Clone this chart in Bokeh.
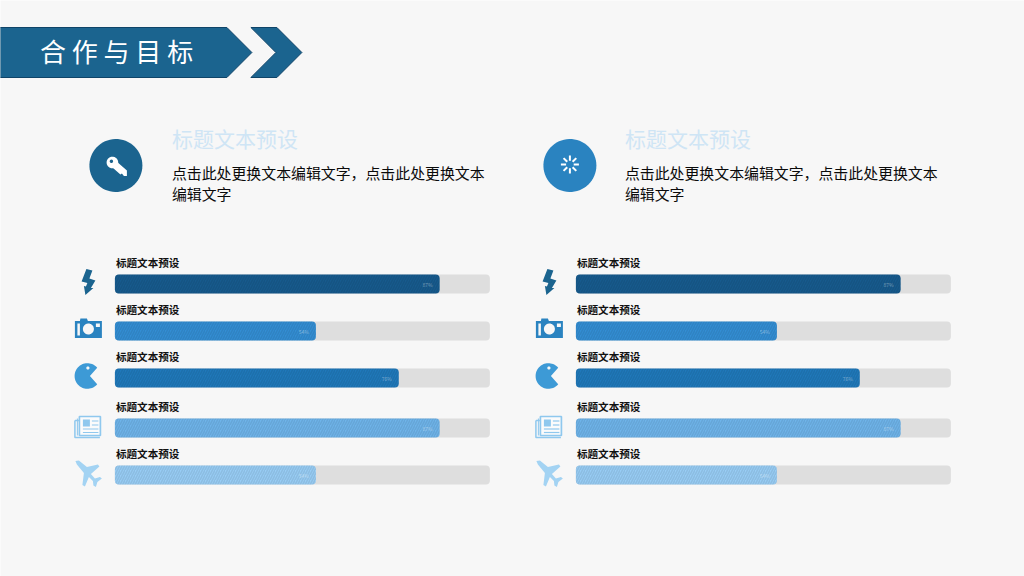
import numpy as np
from bokeh.plotting import figure
from bokeh.models import Range1d
from bokeh.core.properties import value
from bokeh.embed import file_html
from bokeh.resources import INLINE

heading = "合 作 与 目 标"
panel_title = "标题文本预设"
panel_lines = ["点击此处更换文本编辑文字，点击此处更换文本", "编辑文字"]
bar_labels = ["标题文本预设"] * 5
percents = [86.6, 53.6, 75.7, 86.6, 53.6]
percent_labels = ["87%", "54%", "76%", "87%", "54%"]
BAR_COLORS = ["#175b8e", "#338ed4", "#2079bb", "#6fb4ea", "#98cdf5"]
ICON_COLORS = ["#1b648f", "#2a83c0", "#3d9ad6", "#8fc8ee", "#a3d3f3"]
ROW_Y = [283.5, 330.5, 377.5, 427.5, 474.5]
LABEL_Y = [261.5, 308.5, 355.5, 405.5, 452.5]
CJK = value("Noto Sans CJK SC")
BG = "#f7f7f7"

p = figure(width=1024, height=576, x_range=Range1d(0.6, 1024.6), y_range=Range1d(576, 0),
           toolbar_location=None, output_backend="svg", min_border=0,
           background_fill_color=BG, border_fill_color=BG, outline_line_color=None)
p.axis.visible = False
p.grid.visible = False
p.styles = {"position": "absolute", "left": "0px", "top": "0px"}


def poly(pts, color, dx=0, **kw):
    xs = [a + dx for a, _ in pts]
    ys = [b for _, b in pts]
    p.patch(xs, ys, fill_color=color, line_color=kw.pop("line_color", None), **kw)


def circle(cx, cy, r, color):
    t = np.linspace(0, 2 * np.pi, 64)
    p.patch(cx + r * np.cos(t), cy + r * np.sin(t), fill_color=color, line_color=None)


def seg(x0, y0, x1, y1, color, w):
    p.line([x0, x1], [y0, y1], line_color=color, line_width=w)


# banner
poly([(0, 27), (227, 27), (252, 52), (227, 77), (0, 77)], "#1b648f", line_color="#0f4468", line_width=1)
poly([(251, 27), (277, 27), (302, 52), (277, 77), (251, 77), (276, 52)], "#1b648f", line_color="#0f4468", line_width=1)
p.text([40], [50], text=[heading], text_font=CJK, text_font_size="26px", text_color="white",
       text_align="left", text_baseline="middle")


def lightning(dx, c):
    poly([(86.5, 268.5), (92.5, 270), (89.5, 278), (95.5, 280), (91, 287.5), (93.5, 287.5), (85.5, 294.5),
          (84, 285.5), (86, 286), (87.5, 282.5), (81.7, 281)], c, dx)


def camera(dx, c):
    poly([(75, 320.5), (80, 320.5), (80.5, 318), (87, 318), (88, 320.5), (102, 320.5), (102, 337.5), (75, 337.5)], c, dx)
    poly([(77.5, 323), (80, 323), (80, 335), (77.5, 335)], BG, dx)
    circle(88.5 + dx, 328.5, 5.5, BG)
    poly([(96, 323), (100, 323), (100, 326.5), (96, 326.5)], BG, dx)


def pacman(dx, c):
    t = np.radians(np.linspace(40, 320, 50))
    pts = [(90, 375.5)] + [(87.5 + 12.8 * np.cos(a), 375.5 + 12.8 * np.sin(a)) for a in t]
    poly(pts, c, dx)
    circle(88 + dx, 367.5, 1.6, BG)


def news(dx, c):
    xs = [75 + dx, 75 + dx, 100 + dx]
    p.line(xs, [420, 437, 437], line_color=c, line_width=1.5)
    p.line([79 + dx, 75 + dx], [420, 420], line_color=c, line_width=1.5)
    p.line([77.5 + dx, 77.5 + dx], [418, 435], line_color=c, line_width=1)
    p.quad(left=[79.5 + dx], right=[100.5 + dx], top=[416], bottom=[435], fill_color="white", fill_alpha=0.5,
           line_color=c, line_width=1.7)
    p.quad(left=[83 + dx], right=[90 + dx], top=[419], bottom=[426], fill_color=c, line_color=None)
    for y in [420.5, 424.5]:
        seg(92 + dx, y, 98.5 + dx, y, c, 1.2)
    for y in [428.5, 432]:
        seg(83 + dx, y, 98.5 + dx, y, c, 1.2)


def plane(dx, c):
    poly([(75.5, 460.5), (79, 460), (87, 466.5), (98, 464), (99.5, 466), (91, 473.5), (95, 478), (100, 476.5),
          (102, 478), (97.5, 481.5), (96, 486.5), (93.5, 485), (93, 480.5), (89, 476.5), (85, 486), (82.5, 484.5),
          (84, 472.5), (77, 464)], c, dx)


ICONS = [lightning, camera, pacman, news, plane]

# header icons
circle(116, 165, 26.5, "#1b648f")
circle(570, 165, 26.5, "#2a83c0")
circle(112.5, 162, 5.8, "white")
circle(111.5, 160.8, 1.7, "#1b648f")
poly([(115, 159.5), (127, 170), (127, 175.5), (124, 175.5), (122, 173), (120.5, 174), (112, 166.5)], "white")
for a in np.arange(8) * np.pi / 4:
    seg(570 + 3.8 * np.cos(a), 164 + 3.8 * np.sin(a), 570 + 9 * np.cos(a), 164 + 9 * np.sin(a), "white", 2)

for dx, tx in ((0, 172), (461, 625)):
    p.text([tx], [137], text=[panel_title], text_font=CJK, text_font_size="21px", text_color="#cfe5f5",
           text_align="left", text_baseline="middle")
    p.text([tx, tx], [172, 192.5], text=panel_lines, text_font=CJK, text_font_size="14.9px", text_color="#0a0a0a",
           text_align="left", text_baseline="middle")

    left = 115 + dx
    full = 375
    rights = [left + full * v / 100 for v in percents]
    p.hbar(y=ROW_Y, left=left, right=left + full, height=19, fill_color="#dedede", line_color=None, border_radius=4)
    p.hbar(y=ROW_Y, left=left, right=rights, height=19, fill_color=BAR_COLORS, line_color=None, border_radius=4)
    p.hbar(y=ROW_Y, left=left, right=rights, height=19, fill_alpha=0, line_color=None, border_radius=4,
           hatch_pattern="right_diagonal_line", hatch_color="black", hatch_alpha=0.08, hatch_scale=5, hatch_weight=1.5)
    p.text([left + 1] * 5, LABEL_Y, text=bar_labels, text_font=CJK, text_font_size="10.6px", text_color="#111111",
           text_font_style="bold", text_align="left", text_baseline="middle")
    p.text([r - 12 for r in rights], ROW_Y, text=percent_labels, text_font=CJK, text_font_size="5px",
           text_color="white", text_alpha=0.4, text_align="center", text_baseline="middle")
    for fn, c in zip(ICONS, ICON_COLORS):
        fn(dx, c)

open("out.html", "w").write(file_html(p, INLINE))
